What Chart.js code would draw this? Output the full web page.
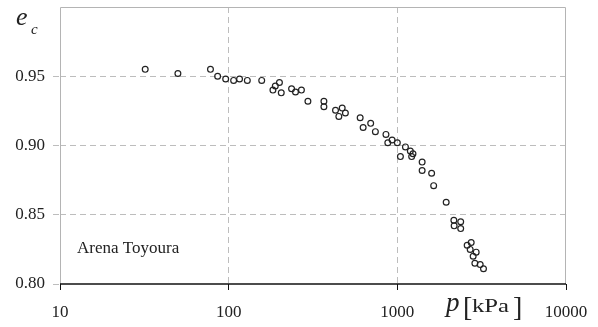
<!DOCTYPE html>
<html lang="en">
  <head>
    <meta charset="UTF-8" />
    <title>Arena Toyoura - e_c vs p</title>
    <script src="https://cdn.jsdelivr.net/npm/chart.js@4.4.0/dist/chart.umd.min.js"></script>
    <style>
      body {
        margin: 0;
        background: #fff;
      }
      .wrap {
        width: 598px;
        height: 327px;
        position: relative;
      }
    </style>
  </head>
  <body>
    <div class="wrap">
      <canvas id="ecChart"></canvas>
    </div>

    <script>
      // mean effective pressure p [kPa] and critical void ratio e_c
      const pressures = [
        32, 50, 78, 86, 96, 107, 116, 129, 157, 183, 189, 200, 205, 236, 249,
        270, 295, 367, 367, 430, 471, 450, 492, 602, 627, 695, 741, 856, 878,
        931, 1000, 1117, 1043, 1194, 1238, 1216, 1403, 1403, 1597, 1642, 1948,
        2163, 2172, 2375, 2375, 2741, 2594, 2703, 2934, 2815, 2882, 3099, 3242,
      ];
      const voidRatios = [
        0.955, 0.952, 0.955, 0.950, 0.948, 0.947, 0.948, 0.947, 0.947, 0.940,
        0.943, 0.9455, 0.938, 0.941, 0.9386, 0.940, 0.932, 0.932, 0.928, 0.9255,
        0.927, 0.921, 0.9235, 0.920, 0.913, 0.916, 0.910, 0.908, 0.902, 0.904,
        0.902, 0.899, 0.892, 0.896, 0.894, 0.892, 0.888, 0.882, 0.880, 0.871,
        0.859, 0.846, 0.842, 0.845, 0.840, 0.830, 0.828, 0.825, 0.823, 0.820,
        0.815, 0.814, 0.811,
      ];
      const xTicks = [10, 100, 1000, 10000];
      const yTicks = [0.8, 0.85, 0.9, 0.95, 1.0];

      const serif = '"Liberation Serif", "Times New Roman", serif';
      const gridGrey = '#bdbdbd';

      const points = pressures.map((p, i) => ({ x: p, y: voidRatios[i] }));

      // outer frame: grey on three sides, black bottom axis
      const framePlugin = {
        id: 'frame',
        beforeDatasetsDraw(chart) {
          const { ctx, chartArea: a } = chart;
          ctx.save();
          ctx.strokeStyle = '#b4b4b4';
          ctx.lineWidth = 1;
          ctx.beginPath();
          ctx.moveTo(a.left + 0.5, a.bottom);
          ctx.lineTo(a.left + 0.5, a.top + 0.5);
          ctx.lineTo(a.right - 0.5, a.top + 0.5);
          ctx.lineTo(a.right - 0.5, a.bottom);
          ctx.stroke();
          ctx.strokeStyle = '#111';
          ctx.lineWidth = 1.5;
          ctx.beginPath();
          ctx.moveTo(a.left, a.bottom);
          ctx.lineTo(a.right, a.bottom);
          ctx.stroke();
          ctx.restore();
        },
        afterDraw(chart) {
          const { ctx } = chart;
          ctx.save();
          ctx.fillStyle = '#222';
          ctx.textBaseline = 'alphabetic';
          ctx.textAlign = 'left';

          // y axis title e_c
          ctx.font = 'italic 26px ' + serif;
          ctx.fillText('e', 16, 25);
          ctx.font = 'italic 15px ' + serif;
          ctx.fillText('c', 31, 34);

          // x axis title p [kPa], unit a little wider
          ctx.font = 'italic 27px ' + serif;
          ctx.fillText('p', 446, 311);
          ctx.font = '28px ' + serif;
          ctx.fillText('[', 463, 316);
          ctx.save();
          ctx.translate(472, 312);
          ctx.scale(1.3, 1);
          ctx.font = '19px ' + serif;
          ctx.fillText('kPa', 0, 0);
          ctx.restore();
          ctx.font = '28px ' + serif;
          ctx.fillText(']', 513, 316);

          // sample name
          ctx.font = '17px ' + serif;
          ctx.fillText('Arena Toyoura', 77, 253);
          ctx.restore();
        },
      };

      new Chart(document.getElementById('ecChart'), {
        type: 'scatter',
        data: {
          datasets: [
            {
              data: points,
              pointStyle: 'circle',
              pointRadius: 2.9,
              pointBorderWidth: 1.2,
              pointBorderColor: '#222',
              pointBackgroundColor: 'rgba(255,255,255,0)',
            },
          ],
        },
        options: {
          responsive: true,
          maintainAspectRatio: false,
          animation: false,
          layout: { padding: { top: 7, right: 32, left: 0, bottom: 0 } },
          plugins: {
            legend: { display: false },
            tooltip: { enabled: false },
          },
          scales: {
            x: {
              type: 'logarithmic',
              min: 10,
              max: 10000,
              afterBuildTicks: (scale) => {
                scale.ticks = xTicks.map((v) => ({ value: v }));
              },
              afterFit: (scale) => {
                scale.height = 43;
                scale.paddingLeft = 0;
                scale.paddingRight = 0;
              },
              border: { display: false, dash: [6, 4] },
              grid: {
                color: (c) =>
                  c.tick && (c.tick.value === 10 || c.tick.value === 10000)
                    ? 'rgba(0,0,0,0)'
                    : gridGrey,
                tickColor: '#111',
                tickLength: 6,
                lineWidth: 1,
              },
              ticks: {
                autoSkip: false,
                maxRotation: 0,
                padding: 12,
                color: '#222',
                font: { family: serif, size: 17 },
                callback: (v) => String(v),
              },
            },
            y: {
              min: 0.8,
              max: 1.0,
              afterBuildTicks: (scale) => {
                scale.ticks = yTicks.map((v) => ({ value: v }));
              },
              afterFit: (scale) => {
                scale.width = 60;
                scale.paddingTop = 0;
                scale.paddingBottom = 0;
              },
              border: { display: false, dash: [6, 4] },
              grid: {
                color: (c) =>
                  c.tick && (c.tick.value < 0.81 || c.tick.value > 0.99)
                    ? 'rgba(0,0,0,0)'
                    : gridGrey,
                tickColor: (c) =>
                  c.tick && c.tick.value > 0.99 ? 'rgba(0,0,0,0)' : gridGrey,
                tickBorderDash: [6, 4],
                tickLength: 7,
                lineWidth: 1,
              },
              ticks: {
                padding: 8,
                color: '#222',
                font: { family: serif, size: 17 },
                callback: (v) => (v > 0.99 ? '' : v.toFixed(2)),
              },
            },
          },
        },
        plugins: [framePlugin],
      });
    </script>
  </body>
</html>
